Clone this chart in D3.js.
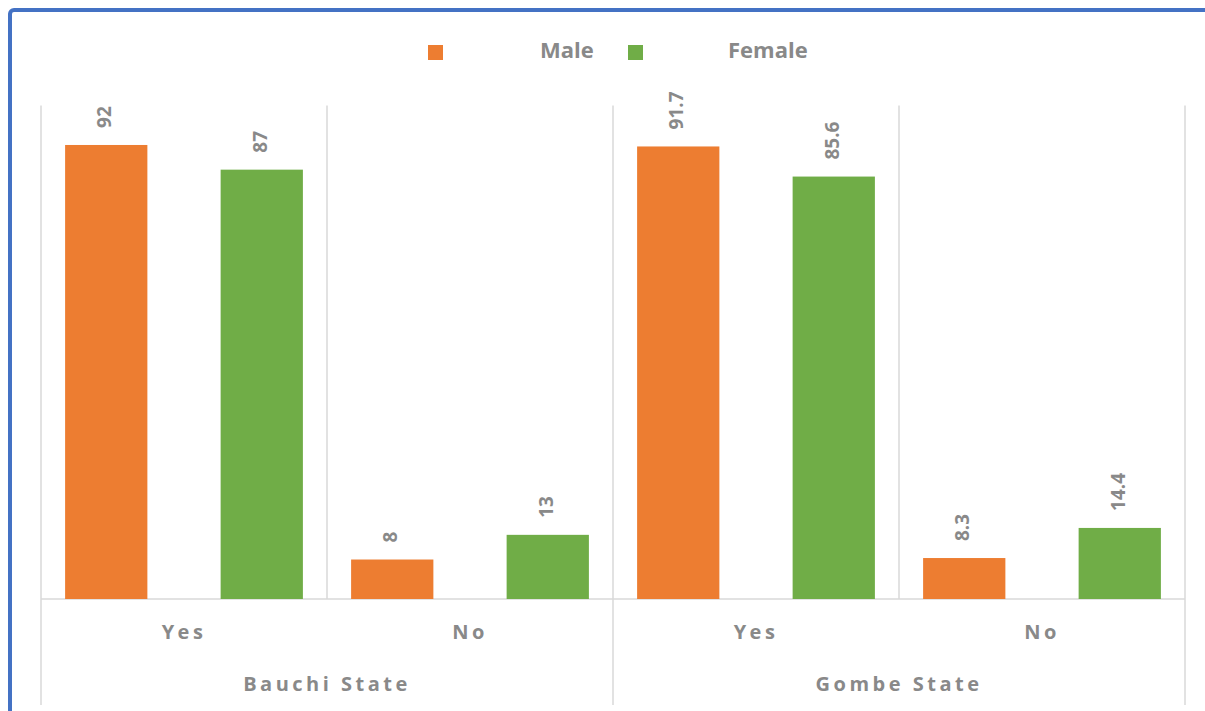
<!DOCTYPE html>
<html>
<head>
<meta charset="utf-8">
<title>Male / Female by state</title>
<script src="https://d3js.org/d3.v7.min.js"></script>
<style>
    body { margin: 0; background: #fff; }
    svg text { font-family: "Open Sans", "Noto Sans", sans-serif; font-weight: 700; fill: #898989; }
</style>
</head>
<body>
<div id="chart"></div>
<script>
    // data
    const states = ["Bauchi State", "Gombe State"];
    const answers = ["Yes", "No"];
    const series = ["Male", "Female"];
    const colors = ["#ed7d31", "#70ad47"];
    const male = [92, 8, 91.7, 8.3];
    const female = [87, 13, 85.6, 14.4];

    const W = 1205, H = 711;
    const svg = d3.select("#chart").append("svg")
        .attr("width", W).attr("height", H);

    // blue frame (cut off at right/bottom)
    svg.append("rect")
        .attr("x", 10).attr("y", 10)
        .attr("width", W + 20).attr("height", H + 20)
        .attr("rx", 4)
        .attr("fill", "none")
        .attr("stroke", "#4472c4")
        .attr("stroke-width", 4);

    const plotLeft = 41, plotRight = 1185, base = 599, plotTop = 105.5;

    const groups = [];
    states.forEach((s, i) => answers.forEach((a, j) => groups.push({ state: s, answer: a, key: s + "|" + a, idx: i * 2 + j })));

    const x0 = d3.scaleBand().domain(groups.map(d => d.key)).range([plotLeft, plotRight]);
    const x1 = d3.scaleBand().domain(series).range([0, x0.bandwidth()]).paddingInner(0.471).paddingOuter(0.155);
    const y = d3.scaleLinear().domain([0, 100]).range([base, plotTop]);

    const grid = "#d9d9d9";

    // vertical separators
    groups.forEach((g, k) => {
        const xx = x0(g.key);
        const long = k % 2 === 0;
        svg.append("line")
            .attr("x1", xx).attr("x2", xx)
            .attr("y1", plotTop).attr("y2", long ? 705 : base)
            .attr("stroke", grid).attr("stroke-width", 1.5);
    });
    svg.append("line")
        .attr("x1", plotRight).attr("x2", plotRight)
        .attr("y1", plotTop).attr("y2", 705)
        .attr("stroke", grid).attr("stroke-width", 1.5);

    // baseline
    svg.append("line")
        .attr("x1", plotLeft).attr("x2", plotRight)
        .attr("y1", base).attr("y2", base)
        .attr("stroke", grid).attr("stroke-width", 1.5);

    // bars
    const vals = [male, female];
    groups.forEach(g => {
        series.forEach((s, si) => {
            const v = vals[si][g.idx];
            const bx = x0(g.key) + x1(s);
            svg.append("rect")
                .attr("x", bx).attr("y", y(v))
                .attr("width", x1.bandwidth())
                .attr("height", base - y(v))
                .attr("fill", colors[si]);
            svg.append("text")
                .attr("transform", `translate(${bx + x1.bandwidth() / 2},${y(v) - 17}) rotate(-90)`)
                .attr("dominant-baseline", "middle")
                .attr("font-size", 19)
                .text(v);
        });
        // answer label
        svg.append("text")
            .attr("x", x0(g.key) + x0.bandwidth() / 2)
            .attr("y", 634)
            .attr("text-anchor", "middle")
            .attr("dominant-baseline", "middle")
            .attr("font-size", 20)
            .attr("letter-spacing", 3.5)
            .text(g.answer);
    });

    // state labels
    states.forEach((s, i) => {
        const a = x0(s + "|" + answers[0]);
        const b = x0(s + "|" + answers[1]) + x0.bandwidth();
        svg.append("text")
            .attr("x", (a + b) / 2)
            .attr("y", 686)
            .attr("text-anchor", "middle")
            .attr("dominant-baseline", "middle")
            .attr("font-size", 20)
            .attr("letter-spacing", 3.5)
            .text(s);
    });

    // legend
    const legX = [428, 628];
    const legTextX = [540, 728];
    series.forEach((s, i) => {
        svg.append("rect")
            .attr("x", legX[i]).attr("y", 45)
            .attr("width", 15).attr("height", 15)
            .attr("fill", colors[i]);
        svg.append("text")
            .attr("x", legTextX[i])
            .attr("y", 52)
            .attr("dominant-baseline", "middle")
            .attr("font-size", 22)
            .attr("font-weight", 600)
            .text(s);
    });
</script>
</body>
</html>
